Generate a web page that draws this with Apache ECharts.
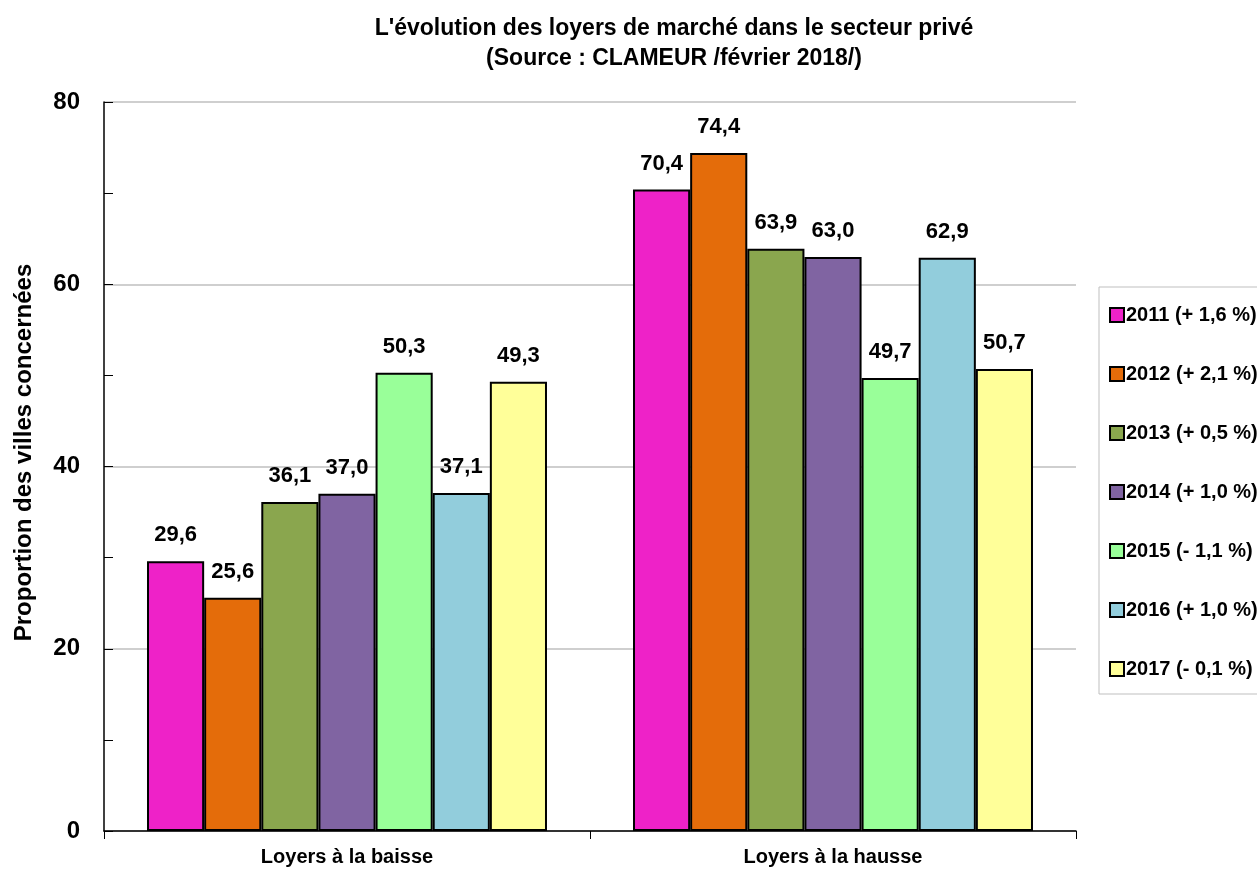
<!DOCTYPE html>
<html>
<head>
<meta charset="utf-8">
<script src="https://cdn.jsdelivr.net/npm/echarts@6/dist/echarts.min.js"></script>
<style>
  html, body { margin: 0; padding: 0; background: #fff; }
  #chart { width: 1257px; height: 871px; }
</style>
</head>
<body>
<div id="chart"></div>
<script>
var categories = ['Loyers à la baisse', 'Loyers à la hausse'];
var seriesNames = ['2011 (+ 1,6 %)', '2012 (+ 2,1 %)', '2013 (+ 0,5 %)', '2014 (+ 1,0 %)',
    '2015 (- 1,1 %)', '2016 (+ 1,0 %)', '2017 (- 0,1 %)'];
var v2011 = [29.6, 70.4];
var v2012 = [25.6, 74.4];
var v2013 = [36.1, 63.9];
var v2014 = [37.0, 63.0];
var v2015 = [50.3, 49.7];
var v2016 = [37.1, 62.9];
var v2017 = [49.3, 50.7];
var colors = ['#ee22c8', '#e46c0a', '#8aa64e', '#8064a2', '#99ff99', '#92cddc', '#ffff99'];

var narrow = "'Liberation Sans Narrow', 'Arial Narrow', 'Liberation Sans', sans-serif";
var wide = "'Liberation Sans', Arial, sans-serif";

var chart = echarts.init(document.getElementById('chart'));
var allValues = [v2011, v2012, v2013, v2014, v2015, v2016, v2017];

// une série par année
var series = allValues.map(function (vals, i) {
    return {
        name: seriesNames[i],
        type: 'bar',
        data: vals,
        barGap: '0%',
        barCategoryGap: '17.7%',
        itemStyle: { color: colors[i], borderColor: '#000', borderWidth: 2 },
        label: {
            show: true,
            position: 'top',
            distance: 15,
            fontFamily: narrow,
            fontWeight: 'bold',
            fontSize: 22,
            color: '#000',
            formatter: function (p) { return p.value.toFixed(1).replace('.', ','); }
        }
    };
});

var option = {
    animation: false,
    backgroundColor: '#fff',
    title: {
        text: "L'évolution des loyers de marché dans le secteur privé\n(Source : CLAMEUR /février 2018/)",
        left: 669,
        textAlign: 'center',
        top: 9,
        textStyle: { fontFamily: narrow, fontWeight: 'bold', fontSize: 23, lineHeight: 30, color: '#000' }
    },
    legend: {
        orient: 'vertical',
        left: 1099,
        top: 287,
        padding: [18, 30, 15, 10],
        itemGap: 39,
        itemWidth: 14,
        itemHeight: 14,
        icon: 'rect',
        borderColor: '#bfbfbf',
        borderWidth: 1,
        backgroundColor: '#fff',
        textStyle: { fontFamily: narrow, fontWeight: 'bold', fontSize: 20, color: '#000', padding: [0, 0, 0, -3] },
        data: seriesNames
    },
    grid: { left: 104, right: 181, top: 102, bottom: 40, containLabel: false, outerBoundsMode: 'none' },
    xAxis: {
        type: 'category',
        data: categories,
        axisLine: { lineStyle: { color: '#000', width: 1.5 } },
        axisTick: { show: true, inside: false, length: 8, lineStyle: { color: '#000' } },
        axisLabel: { fontFamily: narrow, fontWeight: 'bold', fontSize: 20, color: '#000', margin: 16 }
    },
    yAxis: {
        type: 'value',
        min: 0,
        max: 80,
        interval: 20,
        name: 'Proportion des villes concernées',
        nameLocation: 'middle',
        nameGap: 68,
        nameTextStyle: { fontFamily: narrow, fontWeight: 'bold', fontSize: 24, color: '#000', padding: [0, 0, 0, 28] },
        axisLine: { show: true, lineStyle: { color: '#000', width: 1.5 } },
        axisTick: { show: true, inside: true, length: 9, lineStyle: { color: '#000' } },
        minorTick: { show: true, splitNumber: 2, length: 9, lineStyle: { color: '#000' } },
        axisLabel: { fontFamily: wide, fontWeight: 'bold', fontSize: 24, color: '#000', margin: 24 },
        splitLine: { show: true, lineStyle: { color: '#bfbfbf', width: 1.5 } }
    },
    series: series
};
chart.setOption(option);
</script>
</body>
</html>
